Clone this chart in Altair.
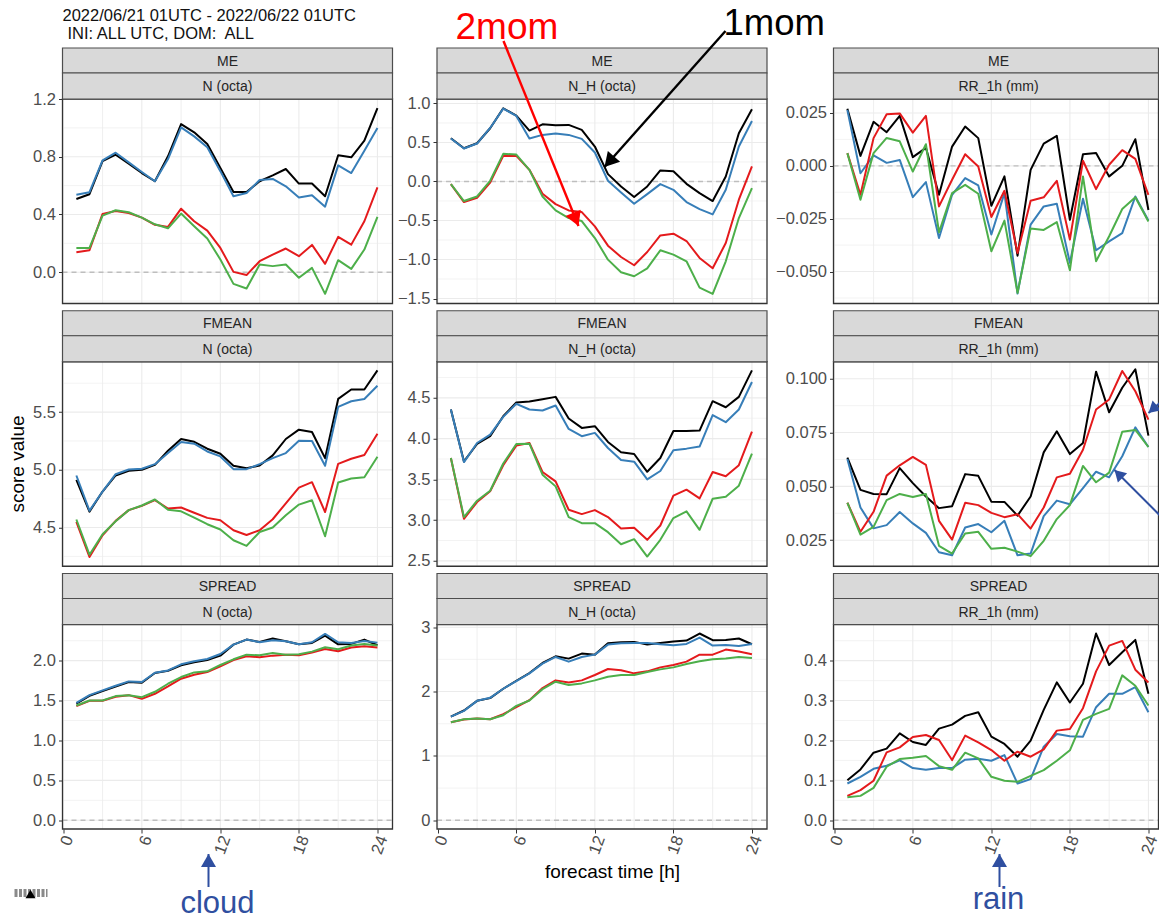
import math
import altair as alt
import pandas as pd

hours = list(range(1, 25))
series_names = ["1mom_a", "1mom_b", "2mom_a", "2mom_b"]
series_colors = ["#000000", "#377EB8", "#E41A1C", "#4DAF4A"]

me_n_black = [0.507,0.54,0.77,0.814,0.752,0.687,0.63,0.803,1.026,0.969,0.888,0.722,0.556,0.556,0.63,0.671,0.715,0.614,0.614,0.526,0.81,0.796,0.911,1.137]
me_n_blue = [0.537,0.554,0.775,0.828,0.761,0.694,0.63,0.784,1.003,0.941,0.865,0.70,0.526,0.549,0.639,0.646,0.595,0.517,0.533,0.454,0.74,0.687,0.842,0.999]
me_n_red = [0.138,0.152,0.404,0.424,0.41,0.378,0.328,0.314,0.44,0.353,0.288,0.168,0.002,-0.02,0.076,0.122,0.164,0.111,0.189,0.058,0.245,0.191,0.353,0.588]
me_n_green = [0.168,0.168,0.392,0.429,0.415,0.378,0.332,0.304,0.406,0.318,0.233,0.088,-0.081,-0.113,0.053,0.042,0.053,-0.039,0.03,-0.15,0.083,0.023,0.157,0.383]

me_nh_black = [0.554,0.426,0.49,0.682,0.938,0.844,0.652,0.733,0.72,0.725,0.661,0.448,0.094,-0.064,-0.2,-0.064,0.141,0.132,-0.03,-0.149,-0.251,0.064,0.618,0.925]
me_nh_blue = [0.55,0.422,0.486,0.686,0.934,0.84,0.55,0.597,0.614,0.597,0.546,0.371,0.009,-0.141,-0.286,-0.162,-0.034,-0.107,-0.264,-0.354,-0.422,-0.107,0.448,0.776]
me_nh_red = [-0.034,-0.264,-0.209,-0.013,0.328,0.328,0.149,-0.158,-0.29,-0.371,-0.392,-0.575,-0.823,-0.968,-1.074,-0.904,-0.691,-0.669,-0.763,-0.98,-1.113,-0.789,-0.234,0.192]
me_nh_green = [-0.034,-0.251,-0.192,0.009,0.354,0.345,0.149,-0.192,-0.371,-0.469,-0.507,-0.725,-1.002,-1.164,-1.215,-1.113,-0.882,-0.938,-1.023,-1.36,-1.441,-1.023,-0.469,-0.085]

me_rr_black = [0.027,0.0047,0.0208,0.0159,0.0236,0.0041,0.0085,-0.0137,0.0091,0.0186,0.0131,-0.0189,-0.005,-0.0425,-0.0019,0.0105,0.0142,-0.0255,0.0055,0.0061,-0.005,0.0,0.0126,-0.0209]
me_rr_blue = [0.0264,-0.0035,0.0049,0.0014,0.0028,-0.0148,-0.0077,-0.0341,-0.0137,-0.0058,-0.0093,-0.0325,-0.0129,-0.0604,-0.0278,-0.0192,-0.0179,-0.0459,-0.0156,-0.0399,-0.0357,-0.0318,-0.0145,-0.0259]
me_rr_red = [0.006,-0.0137,0.0131,0.0244,0.0248,0.0157,0.0236,-0.0192,-0.0066,0.0055,-0.0003,-0.0242,-0.0118,-0.0412,-0.0165,-0.0149,-0.0071,-0.0349,0.0024,-0.011,0.0005,0.0074,0.0033,-0.0137]
me_rr_green = [0.006,-0.016,0.006,0.0132,0.0116,-0.0027,0.0102,-0.0314,-0.0129,-0.009,-0.0132,-0.0404,-0.0259,-0.0601,-0.0296,-0.0303,-0.0266,-0.0494,-0.005,-0.0451,-0.0333,-0.0204,-0.0149,-0.0263]

fm_n_black = [4.913,4.638,4.812,4.951,4.991,5.0,5.043,5.165,5.267,5.243,5.183,5.139,5.035,5.014,5.038,5.125,5.267,5.348,5.328,5.101,5.614,5.696,5.696,5.861]
fm_n_blue = [4.951,4.646,4.812,4.962,5.003,5.009,5.049,5.145,5.241,5.226,5.159,5.116,5.006,5.006,5.049,5.101,5.145,5.252,5.249,5.035,5.545,5.594,5.614,5.728]
fm_n_red = [4.549,4.245,4.433,4.558,4.651,4.688,4.738,4.665,4.674,4.628,4.584,4.564,4.477,4.436,4.477,4.572,4.71,4.846,4.893,4.635,5.052,5.096,5.128,5.313]
fm_n_green = [4.57,4.265,4.442,4.555,4.651,4.691,4.743,4.654,4.641,4.586,4.529,4.483,4.39,4.341,4.462,4.5,4.607,4.699,4.736,4.425,4.89,4.925,4.936,5.113]

fm_nh_black = [4.356,3.72,3.934,4.029,4.274,4.443,4.455,4.484,4.512,4.246,4.131,4.152,3.959,3.832,3.811,3.593,3.762,4.094,4.094,4.099,4.459,4.385,4.512,4.837]
fm_nh_blue = [4.356,3.712,3.946,4.049,4.267,4.427,4.357,4.345,4.406,4.119,4.029,4.07,3.885,3.737,3.717,3.5,3.603,3.857,3.877,3.902,4.288,4.201,4.357,4.694]
fm_nh_red = [3.762,3.016,3.222,3.353,3.674,3.914,3.947,3.59,3.475,3.127,3.074,3.123,3.037,2.897,2.905,2.758,2.934,3.3,3.374,3.267,3.59,3.538,3.674,4.086]
fm_nh_green = [3.762,3.037,3.238,3.361,3.694,3.934,3.938,3.557,3.414,3.037,2.963,2.963,2.852,2.704,2.766,2.553,2.758,3.025,3.107,2.881,3.262,3.287,3.423,3.817]

fm_rr_black = [0.0634,0.0484,0.0465,0.0464,0.0585,0.0515,0.0453,0.0399,0.0408,0.0557,0.0549,0.0429,0.0428,0.0364,0.0453,0.0658,0.0756,0.065,0.0702,0.1033,0.0844,0.0958,0.1044,0.0736]
fm_rr_blue = [0.0627,0.0402,0.0305,0.032,0.0381,0.0328,0.0284,0.0194,0.018,0.0309,0.0325,0.0287,0.034,0.018,0.0188,0.0362,0.0434,0.0417,0.0492,0.0568,0.0542,0.064,0.0774,0.0683]
fm_rr_red = [0.0424,0.0289,0.0382,0.055,0.0598,0.0637,0.06,0.034,0.0253,0.0424,0.0413,0.0377,0.0357,0.0371,0.0304,0.0402,0.0542,0.0559,0.067,0.0857,0.0904,0.1036,0.0942,0.081]
fm_rr_green = [0.0424,0.0276,0.0312,0.0436,0.0465,0.0451,0.0465,0.0224,0.0188,0.0281,0.0289,0.021,0.0215,0.0197,0.0176,0.0247,0.0348,0.0413,0.0595,0.0519,0.0564,0.0754,0.0762,0.0683]

sp_n_black = [1.463,1.56,1.619,1.677,1.732,1.723,1.845,1.874,1.941,1.979,2.008,2.063,2.201,2.264,2.235,2.277,2.243,2.205,2.222,2.314,2.205,2.21,2.264,2.193]
sp_n_blue = [1.472,1.568,1.627,1.686,1.74,1.732,1.849,1.878,1.954,1.992,2.021,2.084,2.201,2.264,2.231,2.256,2.243,2.205,2.231,2.335,2.231,2.222,2.247,2.226]
sp_n_red = [1.43,1.497,1.497,1.547,1.568,1.522,1.585,1.677,1.774,1.824,1.857,1.929,2.008,2.055,2.042,2.063,2.075,2.067,2.101,2.147,2.117,2.164,2.18,2.164]
sp_n_green = [1.438,1.501,1.501,1.556,1.568,1.543,1.61,1.711,1.795,1.853,1.866,1.946,2.017,2.075,2.067,2.096,2.075,2.08,2.113,2.168,2.143,2.189,2.21,2.189]

sp_nh_black = [1.612,1.706,1.856,1.898,2.044,2.168,2.288,2.444,2.548,2.512,2.59,2.574,2.751,2.766,2.772,2.73,2.756,2.777,2.793,2.902,2.798,2.803,2.824,2.735]
sp_nh_blue = [1.612,1.7,1.856,1.903,2.044,2.163,2.283,2.434,2.538,2.465,2.538,2.574,2.73,2.751,2.756,2.756,2.735,2.72,2.74,2.839,2.714,2.725,2.709,2.74]
sp_nh_red = [1.524,1.565,1.581,1.57,1.648,1.758,1.867,2.054,2.174,2.142,2.174,2.257,2.351,2.33,2.283,2.314,2.376,2.413,2.465,2.574,2.574,2.652,2.621,2.579]
sp_nh_green = [1.524,1.57,1.581,1.57,1.633,1.778,1.862,2.038,2.153,2.101,2.127,2.174,2.231,2.257,2.257,2.304,2.345,2.376,2.429,2.47,2.501,2.512,2.538,2.522]

sp_rr_black = [0.1006,0.1275,0.1694,0.1795,0.218,0.1962,0.1887,0.2298,0.2398,0.2616,0.2709,0.2096,0.1912,0.1593,0.1996,0.2767,0.3455,0.2952,0.3421,0.4679,0.3891,0.4209,0.452,0.317]
sp_rr_blue = [0.0922,0.109,0.1291,0.1367,0.1501,0.1308,0.1266,0.1308,0.1308,0.1518,0.1543,0.1493,0.1635,0.0922,0.1031,0.1845,0.2164,0.2105,0.2096,0.2834,0.317,0.317,0.3338,0.2709]
sp_rr_red = [0.0612,0.0755,0.099,0.1702,0.1828,0.2088,0.2138,0.2013,0.1509,0.2122,0.1954,0.1761,0.1493,0.1719,0.1593,0.1778,0.2247,0.2289,0.2809,0.3732,0.4377,0.4495,0.3774,0.3455]
sp_rr_green = [0.0579,0.0612,0.0813,0.1342,0.1535,0.1568,0.161,0.1358,0.1266,0.1694,0.1551,0.109,0.099,0.0964,0.1115,0.1258,0.1493,0.1753,0.2516,0.2667,0.2792,0.3631,0.3371,0.2876]

x_major = [0, 6, 12, 18, 24]
x_minor = [3, 9, 15, 21]

PANELS = [
 dict(s="ME", v="N (octa)", lines=[me_n_black, me_n_blue, me_n_red, me_n_green], dom=[-0.217, 1.2], major=[0, 0.4, 0.8, 1.2], minor=[-0.2, 0.2, 0.6, 1.0], fmt=".1f", zero=True),
 dict(s="ME", v="N_H (octa)", lines=[me_nh_black, me_nh_blue, me_nh_red, me_nh_green], dom=[-1.564, 1.057], major=[-1.5, -1, -0.5, 0, 0.5, 1], minor=[-1.25, -0.75, -0.25, 0.25, 0.75], fmt=".1f", zero=True),
 dict(s="ME", v="RR_1h (mm)", lines=[me_rr_black, me_rr_blue, me_rr_red, me_rr_green], dom=[-0.0651, 0.0316], major=[-0.05, -0.025, 0, 0.025], minor=[-0.0625, -0.0375, -0.0125, 0.0125], fmt=".3f", zero=True),
 dict(s="FMEAN", v="N (octa)", lines=[fm_n_black, fm_n_blue, fm_n_red, fm_n_green], dom=[4.165, 5.936], major=[4.5, 5, 5.5], minor=[4.25, 4.75, 5.25, 5.75], fmt=".1f", zero=False),
 dict(s="FMEAN", v="N_H (octa)", lines=[fm_nh_black, fm_nh_blue, fm_nh_red, fm_nh_green], dom=[2.434, 4.943], major=[2.5, 3, 3.5, 4, 4.5], minor=[2.75, 3.25, 3.75, 4.25, 4.75], fmt=".1f", zero=False),
 dict(s="FMEAN", v="RR_1h (mm)", lines=[fm_rr_black, fm_rr_blue, fm_rr_red, fm_rr_green], dom=[0.0129, 0.1079], major=[0.025, 0.05, 0.075, 0.1], minor=[0.0125, 0.0375, 0.0625, 0.0875], fmt=".3f", zero=False),
 dict(s="SPREAD", v="N (octa)", lines=[sp_n_black, sp_n_blue, sp_n_red, sp_n_green], dom=[-0.109, 2.453], major=[0, 0.5, 1, 1.5, 2], minor=[0.25, 0.75, 1.25, 1.75, 2.25], fmt=".1f", zero=True),
 dict(s="SPREAD", v="N_H (octa)", lines=[sp_nh_black, sp_nh_blue, sp_nh_red, sp_nh_green], dom=[-0.135, 3.042], major=[0, 1, 2, 3], minor=[0.5, 1.5, 2.5], fmt="d", zero=True),
 dict(s="SPREAD", v="RR_1h (mm)", lines=[sp_rr_black, sp_rr_blue, sp_rr_red, sp_rr_green], dom=[-0.0218, 0.4906], major=[0, 0.1, 0.2, 0.3, 0.4], minor=[0.05, 0.15, 0.25, 0.35, 0.45], fmt=".1f", zero=True),
]

FONT = "Liberation Sans"
W, H = 330, 204.5
W_LAST = 325
X_END = 25.15
X_END_LAST = 24.77
GAP_EXTRA = 21.5
OX, OY = 833, 623.5   # page position of the last panel's plot origin
one = alt.Data(values=[{"a": 1}])


def vtext(txt, x, y, size, color="#000000", align="left", baseline="alphabetic", angle=0):
    return alt.Chart(one).mark_text(font=FONT, fontSize=size, color=color, align=align,
                                    baseline=baseline, angle=angle).encode(
        x=alt.value(x), y=alt.value(y), text=alt.value(txt))


def box(y0, y1, fill, stroke, sw, pw):
    return alt.Chart(one).mark_rect(fill=fill, fillOpacity=1 if fill != "#FFFFFF" else 0, stroke=stroke, strokeWidth=sw).encode(
        x=alt.value(0), x2=alt.value(pw), y=alt.value(y0), y2=alt.value(y1))


def panel(p, idx):
    row, col = idx // 3, idx % 3
    pw = W_LAST if col == 2 else W
    x_scale = alt.Scale(domain=[-0.06, X_END_LAST if col == 2 else X_END], range=[0, pw], nice=False, zero=False)
    y_scale = alt.Scale(domain=p["dom"], nice=False, zero=False)
    ax_x = alt.Axis(values=x_major, labels=row == 2, ticks=row == 2, domain=False, grid=False, title=None,
                    labelAngle=290, labelAlign="right", labelBaseline="middle", labelOffset=4 if col == 2 else 5, labelPadding=3,
                    labelFontSize=16.5, labelFont=FONT, labelColor="#4D4D4D", tickColor="#333333", tickSize=4,
                    format="d", labelOverlap=False, labelFlush=False)
    ax_y = alt.Axis(values=p["major"], domain=False, grid=False, title=None, format=p["fmt"],
                    labelFontSize=16.5, labelFont=FONT, labelColor="#4D4D4D", tickColor="#333333", tickSize=4,
                    labelPadding=3, labelOverlap=False, labelFlush=False)
    layers = []
    layers.append(alt.Chart(pd.DataFrame({"v": p["minor"]})).mark_rule(color="#EBEBEB", strokeWidth=0.6).encode(
        y=alt.Y("v:Q", scale=y_scale, axis=ax_y), x=alt.value(0), x2=alt.value(pw)))
    layers.append(alt.Chart(pd.DataFrame({"v": p["major"]})).mark_rule(color="#EBEBEB", strokeWidth=1.1).encode(
        y=alt.Y("v:Q", scale=y_scale, axis=ax_y), x=alt.value(0), x2=alt.value(pw)))
    layers.append(alt.Chart(pd.DataFrame({"v": x_minor})).mark_rule(color="#EBEBEB", strokeWidth=0.8).encode(
        x=alt.X("v:Q", scale=x_scale, axis=ax_x), y=alt.value(0), y2=alt.value(H)))
    layers.append(alt.Chart(pd.DataFrame({"v": x_major})).mark_rule(color="#EBEBEB", strokeWidth=1.1).encode(
        x=alt.X("v:Q", scale=x_scale, axis=ax_x), y=alt.value(0), y2=alt.value(H)))
    if p["zero"]:
        layers.append(alt.Chart(pd.DataFrame({"v": [0]})).mark_rule(color="#BEBEBE", strokeWidth=1.4, strokeDash=[5, 4]).encode(
            y=alt.Y("v:Q", scale=y_scale, axis=ax_y), x=alt.value(0), x2=alt.value(pw)))
    rows = []
    for name, vals in zip(series_names, p["lines"]):
        rows += [{"h": h, "value": v, "series": name} for h, v in zip(hours, vals)]
    layers.append(alt.Chart(pd.DataFrame(rows)).mark_line(strokeWidth=2, strokeJoin="round").encode(
        x=alt.X("h:Q", scale=x_scale, axis=ax_x),
        y=alt.Y("value:Q", scale=y_scale, axis=ax_y),
        color=alt.Color("series:N", scale=alt.Scale(domain=series_names, range=series_colors), legend=None)))
    layers.append(box(0, H, "#FFFFFF", "#333333", 1.3, pw))
    layers.append(box(-51, -26, "#D9D9D9", "#4D4D4D", 1.2, pw))
    layers.append(box(-26, 0, "#D9D9D9", "#4D4D4D", 1.2, pw))
    layers.append(vtext(p["s"], W / 2, -37.5, 14, "#262626", "center", "middle"))
    layers.append(vtext(p["v"], W / 2, -12, 14, "#262626", "center", "middle"))
    if idx == 8:
        layers += overlay()
    return alt.layer(*layers).resolve_scale(x="shared", y="shared").properties(
        width=pw + (GAP_EXTRA if col == 1 else 0), height=H)


def arrow(x0, y0, x1, y1, angle, size, color, sw):
    a = alt.Chart(one).mark_rule(color=color, strokeWidth=sw).encode(
        x=alt.value(x0 - OX), x2=alt.value(x1 - OX), y=alt.value(y0 - OY), y2=alt.value(y1 - OY))
    h = (size ** 0.5) / 2 * 0.866
    cx = x1 - h * math.sin(math.radians(angle))
    cy = y1 + h * math.cos(math.radians(angle))
    b = alt.Chart(one).mark_point(shape="triangle-up", filled=True, size=size, angle=angle, color=color, opacity=1).encode(
        x=alt.value(cx - OX), y=alt.value(cy - OY))
    return [a, b]


def overlay():
    blue = "#2F4FA0"
    items = []
    items.append(vtext("2022/06/21 01UTC - 2022/06/22 01UTC", 62 - OX, 20 - OY, 16.5, "#111111"))
    items.append(vtext("INI: ALL UTC, DOM:\u00a0 ALL", 67 - OX, 38 - OY, 16.5, "#111111"))
    items.append(vtext("score value", 23 - OX, 463 - OY, 19, "#000000", "center", "alphabetic", 270))
    items.append(vtext("forecast time [h]", 612 - OX, 877 - OY, 19, "#000000", "center"))
    items.append(vtext("2mom", 455 - OX, 38 - OY, 37, "#FF0000"))
    items.append(vtext("1mom", 723 - OX, 34 - OY, 36.5, "#000000"))
    items.append(vtext("cloud", 217 - OX, 912 - OY, 31, blue, "center"))
    items.append(vtext("rain", 998 - OX, 908 - OY, 31, blue, "center"))
    items += arrow(503, 40, 578, 225, 157.8, 270, "#FF0000", 2.4)
    items += arrow(725, 30, 604, 166, 221.7, 270, "#000000", 2.4)
    items += arrow(208, 886, 208, 853, 0, 225, blue, 2)
    items += arrow(999, 886, 999, 853, 0, 225, blue, 2)
    items += arrow(1167, 395, 1148, 412, 228, 170, blue, 2)
    items += arrow(1167, 522, 1114, 469, 315, 170, blue, 2)
    # small logo fragment at the lower-left corner
    items.append(alt.Chart(one).mark_rule(color="#8A8A8A", strokeWidth=8, strokeDash=[3, 1.5]).encode(
        x=alt.value(14 - OX), x2=alt.value(47 - OX), y=alt.value(892 - OY)))
    items.append(alt.Chart(one).mark_point(shape="triangle-up", filled=True, size=100, color="#000000", opacity=1).encode(
        x=alt.value(30 - OX), y=alt.value(893 - OY)))
    return items


charts = [panel(p, i) for i, p in enumerate(PANELS)]
chart = alt.concat(*charts, columns=3, bounds="flush",
                   spacing=alt.RowColnumber(row=57.75, column=44.5)).properties(
    autosize=alt.AutoSizeParams(type="none"),
    padding={"left": 54.5, "top": 91, "right": 1096.5, "bottom": 818},
).configure_view(stroke=None)
chart.save("out.html", embed_options={"renderer": "svg", "actions": False})
